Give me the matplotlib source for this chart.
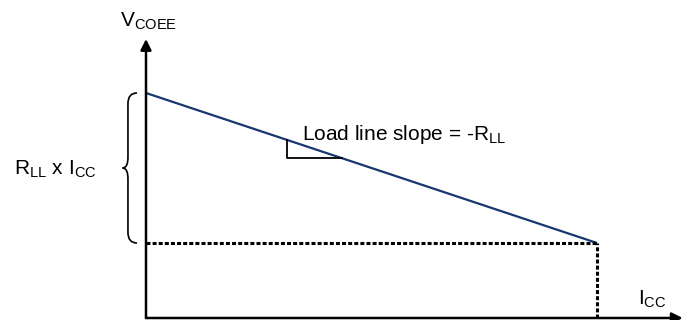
import matplotlib.pyplot as plt
from matplotlib.path import Path
from matplotlib.patches import PathPatch

plt.rcParams['font.family'] = ['Liberation Sans', 'DejaVu Sans']
plt.rcParams['mathtext.fontset'] = 'custom'
plt.rcParams['mathtext.rm'] = 'Liberation Sans'
plt.rcParams['mathtext.it'] = 'Liberation Sans'

# load line end points: current (x) vs. output voltage (y)
i_cc = [0.0, 1.0]
v_coee = [3.0, 1.0]

x_label = r'I$_{\mathrm{CC}}$'
y_label = r'V$_{\mathrm{COEE}}$'
slope_label = r'Load line slope = -R$_{\mathrm{LL}}$'
drop_label = r'R$_{\mathrm{LL}}$ x I$_{\mathrm{CC}}$'

line_color = '#17376e'

fig = plt.figure(figsize=(6.84, 3.2), dpi=100)
ax = fig.add_axes([146 / 684, 2 / 320, 538 / 684, 318 / 320])
ax.set_xlim(0, 538 / 451)
ax.set_ylim(0, 318 / 75)
ax.axis('off')

# axes with arrow heads
arrow = dict(arrowstyle='-|>', lw=1.8, color='black', mutation_scale=16,
             shrinkA=0, shrinkB=0)
ax.annotate('', xy=(0, 3.72), xytext=(0, 0), arrowprops=arrow)
ax.annotate('', xy=(1.19, 0), xytext=(0, 0), arrowprops=arrow)

# load line
ax.plot(i_cc, v_coee, color=line_color, lw=1.6, solid_capstyle='butt')

# dotted guides down to the axes
dots = dict(color='black', lw=2.2, linestyle=(0, (1.3, 0.7)))
ax.plot([0, i_cc[-1]], [v_coee[-1], v_coee[-1]], **dots)
ax.plot([i_cc[-1], i_cc[-1]], [0, v_coee[-1]], **dots)

# slope triangle under the line
slope = (v_coee[1] - v_coee[0]) / (i_cc[1] - i_cc[0])
x0, x1 = 0.3126, 0.4346
y0 = v_coee[0] + slope * x0
y1 = v_coee[0] + slope * x1
ax.plot([x0, x0, x1], [y0, y1, y1], color='black', lw=1.3)

ax.text(0.346, 2.37, slope_label, fontsize=15, va='baseline', ha='left')
ax.text(-0.058, 3.88, y_label, fontsize=15, va='baseline', ha='left')
ax.text(1.091, 0.173, x_label, fontsize=15, va='baseline', ha='left')
ax.text(-0.292, 1.907, drop_label, fontsize=15, va='baseline', ha='left')

# curly brace spanning the voltage drop
ytop, ybot = v_coee[0], v_coee[-1]
ymid = (ytop + ybot) / 2
xr, xm, xt = -0.02, -0.04, -0.052
r = 0.14
verts = [
    (xr, ytop), (xm, ytop), (xm, ytop - r),
    (xm, ymid + r),
    (xm, ymid), (xt, ymid),
    (xm, ymid), (xm, ymid - r),
    (xm, ybot + r),
    (xm, ybot), (xr, ybot),
]
codes = [Path.MOVETO, Path.CURVE3, Path.CURVE3, Path.LINETO,
         Path.CURVE3, Path.CURVE3, Path.CURVE3, Path.CURVE3,
         Path.LINETO, Path.CURVE3, Path.CURVE3]
ax.add_patch(PathPatch(Path(verts, codes), fill=False, lw=1.2,
                       edgecolor='black', clip_on=False))

fig.savefig('out.png', dpi=100)
